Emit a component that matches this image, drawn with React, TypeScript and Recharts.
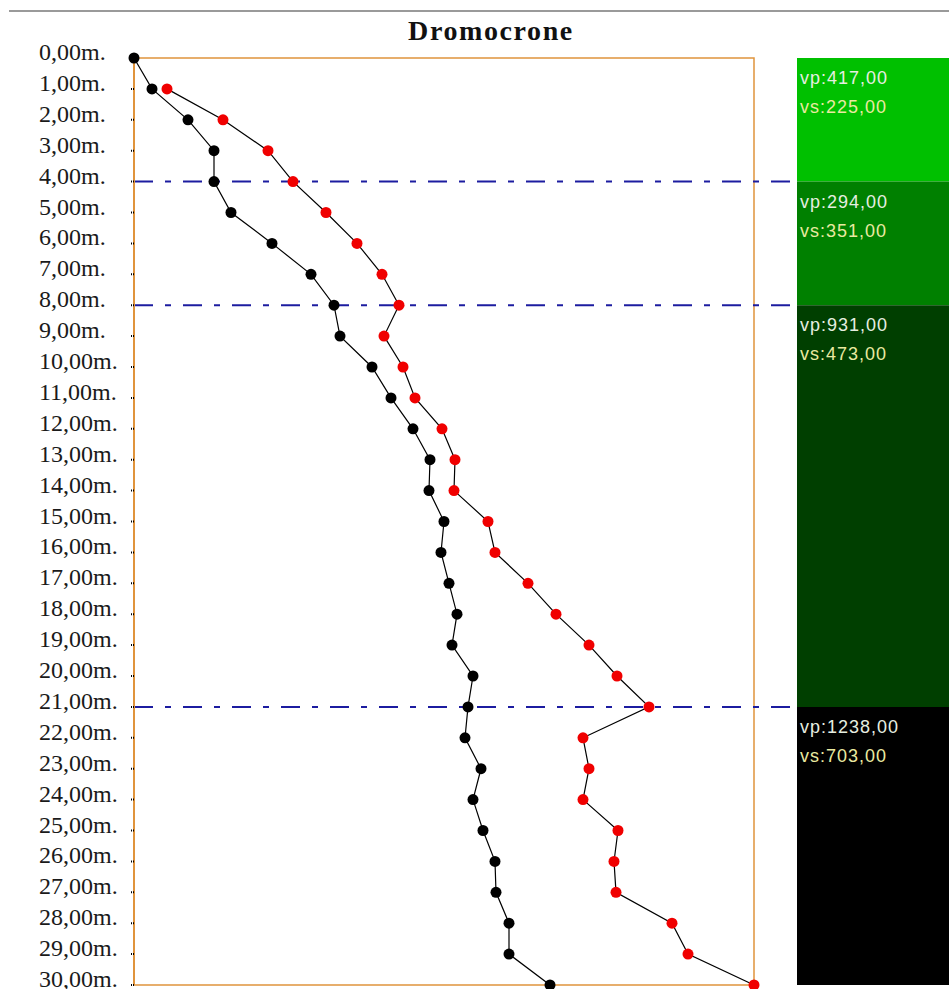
import React from 'react'
import {
  ScatterChart,
  Scatter,
  XAxis,
  YAxis,
  ReferenceArea,
  ReferenceLine,
} from 'recharts'

// depth in metres, arrival times (arbitrary time units)
const depths = [
  0, 1, 2, 3, 4, 5, 6, 7, 8, 9, 10, 11, 12, 13, 14, 15, 16, 17, 18, 19, 20, 21, 22, 23, 24, 25, 26,
  27, 28, 29, 30,
]
const pTimes = [
  0, 1.8, 5.4, 8.0, 8.0, 9.7, 13.8, 17.7, 20.0, 20.6, 23.8, 25.7, 27.9, 29.6, 29.5, 31.0, 30.7, 31.5,
  32.3, 31.8, 33.9, 33.4, 33.1, 34.7, 33.9, 34.9, 36.1, 36.2, 37.5, 37.5, 41.6,
]
const sTimes = [
  null, 3.3, 8.9, 13.4, 15.9, 19.2, 22.3, 24.8, 26.5, 25.0, 26.9, 28.1, 30.8, 32.1, 32.0, 35.4, 36.1,
  39.4, 42.2, 45.5, 48.3, 51.5, 44.9, 45.5, 44.9, 48.4, 48.0, 48.2, 53.8, 55.4, 62.0,
]

// layers
const layerTops = [0, 4, 8, 21]
const layerBottoms = [4, 8, 21, 30]
const layerVp = ['417,00', '294,00', '931,00', '1238,00']
const layerVs = ['225,00', '351,00', '473,00', '703,00']
const layerColors = ['#00c000', '#008000', '#003f00', '#000000']

const T_MAX = 62
const LEGEND_X1 = 66.3
const LEGEND_X2 = 81.5

const pData = depths.map((d, i) => ({ t: pTimes[i], depth: d }))
const sData = depths
  .map((d, i) => ({ t: sTimes[i], depth: d }))
  .filter((p) => p.t !== null)

const fmtDepth = (v: number) => `${v.toFixed(2).replace('.', ',')}m.`

function DepthTick(props: any) {
  const { y, payload } = props
  return (
    <text
      x={39}
      y={y + 2}
      fontFamily="'Liberation Serif', serif"
      fontSize={24}
      fill="#1a1a1a"
      textAnchor="start"
    >
      {fmtDepth(payload.value)}
    </text>
  )
}

function Dot(color: string) {
  return (props: any) => <circle cx={props.cx} cy={props.cy} r={5.5} fill={color} />
}

function LayerLabel(props: any) {
  const { viewBox, vp, vs } = props
  if (!viewBox) return null
  const x = viewBox.x + 3
  const y = viewBox.y
  return (
    <g fontFamily="'Liberation Sans', Arial, sans-serif" fontSize={18} letterSpacing={1}>
      <text x={x} y={y + 26} fill="#e6eee0">
        {`vp:${vp}`}
      </text>
      <text x={x} y={y + 55} fill="#eaeaa0">
        {`vs:${vs}`}
      </text>
    </g>
  )
}

export default function App() {
  return (
    <div style={{ position: 'absolute', left: 0, top: 0, width: 949, height: 989, background: '#fff' }}>
      <div
        style={{
          position: 'absolute',
          left: 9,
          top: 10,
          width: 940,
          height: 2,
          background: '#9a9a9a',
        }}
      />
      <div
        style={{
          position: 'absolute',
          left: 0,
          top: 15,
          width: 982,
          textAlign: 'center',
          fontFamily: "'Liberation Serif', serif",
          fontWeight: 'bold',
          fontSize: 28,
          letterSpacing: 1.6,
          color: '#111',
        }}
      >
        Dromocrone
      </div>
      <ScatterChart
        width={949}
        height={989}
        margin={{ top: 58, right: 195, bottom: 4, left: 34 }}
        style={{ position: 'absolute', left: 0, top: 0 }}
      >
        <XAxis type="number" dataKey="t" domain={[0, T_MAX]} hide />
        <YAxis
          type="number"
          dataKey="depth"
          domain={[0, 30]}
          reversed
          ticks={depths}
          interval={0}
          width={100}
          axisLine={{ stroke: '#e0943c', strokeWidth: 2 }}
          tickLine={{ stroke: '#000', strokeWidth: 2, strokeDasharray: '1 1' }}
          tickSize={3}
          tick={<DepthTick />}
        />
        <ReferenceArea
          x1={0}
          x2={T_MAX}
          y1={0}
          y2={30}
          fill="none"
          stroke="#e0943c"
          strokeWidth={1.5}
          ifOverflow="visible"
        />
        {layerTops.map((top, i) => (
          <ReferenceArea
            key={`layer-${i}`}
            x1={LEGEND_X1}
            x2={LEGEND_X2}
            y1={top}
            y2={layerBottoms[i]}
            fill={layerColors[i]}
            fillOpacity={1}
            stroke="none"
            ifOverflow="visible"
            label={<LayerLabel vp={layerVp[i]} vs={layerVs[i]} />}
          />
        ))}
        {layerTops.slice(1).map((top) => (
          <ReferenceLine
            key={`bound-${top}`}
            segment={[
              { x: 0, y: top },
              { x: LEGEND_X1, y: top },
            ]}
            stroke="#1c1ca0"
            strokeWidth={2}
            strokeDasharray="19 12 6 12"
            ifOverflow="visible"
          />
        ))}
        <Scatter
          data={pData}
          line={{ stroke: '#000', strokeWidth: 1.2 }}
          lineType="joint"
          shape={Dot('#000')}
          isAnimationActive={false}
        />
        <Scatter
          data={sData}
          line={{ stroke: '#000', strokeWidth: 1.2 }}
          lineType="joint"
          shape={Dot('#f00000')}
          isAnimationActive={false}
        />
      </ScatterChart>
    </div>
  )
}
